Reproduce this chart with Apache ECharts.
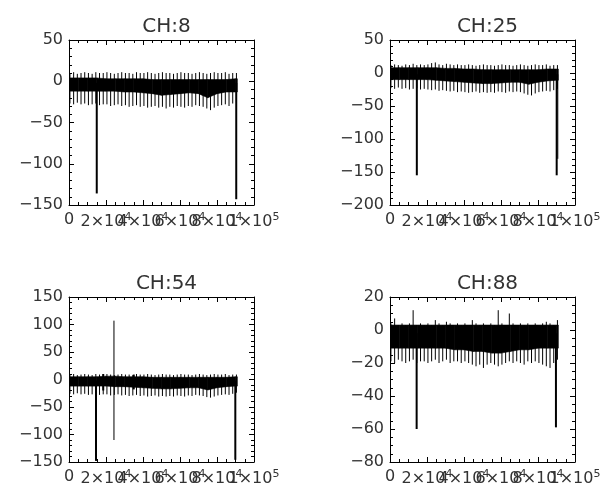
<!DOCTYPE html>
<html>
<head>
<meta charset="UTF-8">
<title>CH plots</title>
<style>
  body { margin: 0; background: #fff; }
  #chart { width: 600px; height: 489px; }
</style>
<script src="https://cdn.jsdelivr.net/npm/echarts@6.0.0/dist/echarts.min.js"></script>
</head>
<body>
<div id="chart"></div>
<script>
// x ticks, shared by all four panels
var xTicks = [0, 20000, 40000, 60000, 80000, 100000];
var xTickMant = ['0', '2', '4', '6', '8', '1'];
var xTickExp = ['', '4', '4', '4', '4', '5'];

// envelope of the dense black band (sample positions)
var envX = [0, 5000, 10000, 15000, 20000, 25000, 30000, 35000, 40000, 45000,
  50000, 55000, 60000, 65000, 70000, 75000, 80000, 85000, 90000, 91000];

// positions of the regular comb spikes
var spikeX = [500, 2500, 4500, 6500, 8500, 10500, 12500, 14500, 16500, 18500,
  20500, 22500, 24500, 26500, 28500, 30500, 32500, 34500, 36500, 38500,
  40500, 42500, 44500, 46500, 48500, 50500, 52500, 54500, 56500, 58500,
  60500, 62500, 64500, 66500, 68500, 70500, 72500, 74500, 76500, 78500,
  80500, 82500, 84500, 86500, 88500, 90500];

// CH:8
var ch8Top = [4, 4, 4, 4, 3, 3, 3, 3, 3, 2, 2, 2, 2, 2, 2, 2, 2, 2, 3, 3];
var ch8Bot = [-12, -12, -12, -12, -12, -12, -13, -13, -14, -15, -17, -16, -15, -14, -15, -20, -15, -13, -13, -13];
var ch8SpikeLo = [-27, -28, -26, -28, -27, -29, -28, -27, -29, -28, -28, -30, -29, -28, -30, -29, -31, -30, -29, -31,
  -30, -32, -31, -30, -32, -31, -33, -31, -32, -30, -31, -32, -30, -31, -29, -30, -31, -33, -35, -32,
  -30, -29, -28, -30, -27, -25];
var ch8SpikeHi = [10, 11, 9, 10, 11, 10, 9, 11, 10, 10, 11, 10, 9, 10, 11, 10, 10, 9, 11, 10,
  10, 11, 10, 9, 10, 11, 10, 10, 9, 10, 11, 10, 10, 9, 10, 11, 10, 9, 10, 11,
  10, 10, 11, 9, 10, 10];
var ch8Big = [[15000, -136, -2, 2], [90400, -143, -2, 2]];

// CH:25
var ch25Top = [8, 8, 8, 8, 8, 8, 7, 7, 6, 6, 5, 5, 5, 5, 5, 5, 5, 6, 6, 6];
var ch25Bot = [-10, -10, -10, -10, -10, -11, -12, -13, -14, -15, -16, -16, -15, -14, -14, -17, -14, -12, -11, -11];
var ch25SpikeLo = [-23, -24, -22, -24, -23, -25, -24, -23, -25, -24, -25, -26, -25, -27, -26, -27, -28, -27, -29, -28,
  -29, -30, -29, -28, -30, -29, -30, -29, -30, -28, -29, -30, -28, -29, -28, -29, -31, -33, -34, -31,
  -29, -28, -27, -28, -26, -24];
var ch25SpikeHi = [12, 13, 12, 11, 13, 12, 14, 12, 13, 12, 13, 15, 16, 13, 12, 14, 13, 12, 13, 12,
  12, 13, 12, 11, 12, 13, 12, 12, 11, 12, 13, 12, 12, 11, 12, 13, 12, 11, 12, 13,
  12, 12, 13, 11, 12, 12];
var ch25Big = [[14500, -155, -2, 2], [90100, -155, -2, 2], [90700, -130, -2, 1]];

// CH:54
var ch54Top = [5, 5, 5, 5, 6, 6, 5, 5, 5, 4, 4, 4, 4, 4, 4, 4, 4, 4, 5, 5];
var ch54Bot = [-12, -12, -12, -12, -12, -13, -13, -14, -15, -16, -17, -17, -16, -15, -15, -19, -15, -13, -12, -12];
var ch54SpikeLo = [-26, -27, -25, -27, -26, -28, -27, -26, -28, -27, -27, -29, -28, -27, -29, -28, -30, -29, -28, -30,
  -29, -31, -30, -29, -31, -30, -31, -30, -31, -29, -30, -31, -29, -30, -28, -29, -30, -32, -33, -31,
  -29, -28, -27, -28, -26, -24];
var ch54SpikeHi = [9, 10, 8, 9, 10, 9, 8, 10, 9, 9, 10, 9, 8, 9, 10, 9, 9, 8, 10, 9,
  9, 10, 9, 8, 9, 10, 9, 9, 8, 9, 10, 9, 9, 8, 9, 10, 9, 8, 9, 10,
  9, 9, 10, 8, 9, 9];
var ch54Big = [[14600, -148, -2, 2], [18500, -20, 10, 2], [24300, -110, 107, 1], [35000, -18, 9, 2], [89900, -146, -2, 2]];

// CH:88
var ch88Top = [3, 3, 3, 3, 3, 3, 3, 3, 3, 3, 3, 3, 3, 3, 3, 3, 3, 3, 3, 3];
var ch88Bot = [-11, -11, -11, -11, -11, -11, -11, -12, -12, -13, -13, -14, -14, -13, -12, -12, -11, -11, -11, -11];
var ch88SpikeLo = [-19, -20, -18, -19, -20, -19, -18, -20, -19, -19, -20, -19, -18, -20, -19, -18, -20, -19, -19, -20,
  -19, -20, -21, -22, -21, -23, -21, -20, -21, -22, -21, -20, -19, -20, -19, -20, -21, -19, -20, -19,
  -20, -21, -22, -23, -20, -18];
var ch88SpikeHi = [4, 7, 3, 4, 3, 4, 12, 3, 4, 3, 4, 3, 6, 4, 3, 5, 4, 3, 4, 3,
  4, 3, 6, 4, 3, 4, 3, 4, 3, 12, 4, 3, 10, 4, 3, 4, 3, 4, 3, 4,
  3, 4, 5, 4, 3, 6];
var ch88Big = [[14400, -60, -2, 2], [89700, -59, -2, 2]];

var panels = [
  { name: 'CH:8', left: 69, top: 40, min: -150, max: 50, interval: 50, minor: 5,
    top_: ch8Top, bot: ch8Bot, lo: ch8SpikeLo, hi: ch8SpikeHi, big: ch8Big },
  { name: 'CH:25', left: 390, top: 40, min: -200, max: 50, interval: 50, minor: 5,
    top_: ch25Top, bot: ch25Bot, lo: ch25SpikeLo, hi: ch25SpikeHi, big: ch25Big },
  { name: 'CH:54', left: 69, top: 297, min: -150, max: 150, interval: 50, minor: 5,
    top_: ch54Top, bot: ch54Bot, lo: ch54SpikeLo, hi: ch54SpikeHi, big: ch54Big },
  { name: 'CH:88', left: 390, top: 297, min: -80, max: 20, interval: 20, minor: 4,
    top_: ch88Top, bot: ch88Bot, lo: ch88SpikeLo, hi: ch88SpikeHi, big: ch88Big }
];

var PW = 185, PH = 165;
var textColor = '#333';
var fontFamily = '"DejaVu Sans", sans-serif';

function yLabel(v) {
  return v < 0 ? '\u2212' + (-v) : String(v);
}
// the reference labels overlap each other; split them over two label axes
// (even / odd ticks) so ECharts does not drop any of them
function xLabelPart(odd) {
  return function (v) {
    var i = xTicks.indexOf(v);
    if (i < 0 || (i % 2 === 1) !== odd) return '';
    if (xTickExp[i] === '') return xTickMant[i];
    return '{b|' + xTickMant[i] + '\u00d710}{s|' + xTickExp[i] + '}';
  };
}

function renderBand(params, api) {
  var a = api.coord([api.value(0), api.value(1)]);
  var b = api.coord([api.value(3), api.value(4)]);
  var c = api.coord([api.value(3), api.value(5)]);
  var d = api.coord([api.value(0), api.value(2)]);
  return {
    type: 'polygon',
    shape: { points: [a, b, c, d] },
    style: { fill: '#000', stroke: '#000', lineWidth: 0.6 }
  };
}

function renderSeg(params, api) {
  var p = api.coord([api.value(0), api.value(1)]);
  var q = api.coord([api.value(0), api.value(2)]);
  return {
    type: 'line',
    shape: { x1: p[0], y1: p[1], x2: q[0], y2: q[1] },
    style: { stroke: '#000', lineWidth: api.value(3) }
  };
}

var titles = [], grids = [], xAxes = [], yAxes = [], series = [];

panels.forEach(function (p, k) {
  titles.push({
    text: p.name,
    left: p.left + PW / 2,
    top: p.top - 28,
    textAlign: 'center',
    textStyle: { fontSize: 20, fontWeight: 'normal', color: textColor, fontFamily: fontFamily }
  });
  grids.push({ left: p.left, top: p.top, width: PW, height: PH, outerBoundsMode: 'none' });

  var tickBase = { show: true, inside: true, length: 5, lineStyle: { color: '#000' } };
  var minorX = { show: true, splitNumber: 4, length: 3, lineStyle: { color: '#000' } };
  var minorY = { show: true, splitNumber: p.minor, length: 3, lineStyle: { color: '#000' } };
  var line = { show: true, onZero: false, lineStyle: { color: '#000', width: 1 } };
  var rich = {
    b: { fontSize: 16, color: textColor, fontFamily: fontFamily },
    s: { fontSize: 11, color: textColor, fontFamily: fontFamily, verticalAlign: 'top', padding: [0, 0, 8, 0] }
  };

  // 0: bottom axis (line, ticks, even labels)
  xAxes.push({
    type: 'value', gridIndex: k, position: 'bottom', min: 0, max: 100000, interval: 20000,
    axisLine: line, axisTick: tickBase, minorTick: minorX, splitLine: { show: false },
    axisLabel: {
      show: true, margin: 7, hideOverlap: false,
      formatter: xLabelPart(false), color: textColor, fontSize: 16, fontFamily: fontFamily, rich: rich
    }
  });
  // 1: top axis (box edge)
  xAxes.push({
    type: 'value', gridIndex: k, position: 'top', min: 0, max: 100000, interval: 20000,
    axisLine: line, axisTick: tickBase, minorTick: minorX, splitLine: { show: false },
    axisLabel: { show: false }
  });
  // 2: bottom label-only axis (odd labels)
  xAxes.push({
    type: 'value', gridIndex: k, position: 'bottom', offset: 0, min: 0, max: 100000, interval: 20000,
    axisLine: { show: false }, axisTick: { show: false }, splitLine: { show: false },
    axisLabel: {
      show: true, margin: 7, hideOverlap: false,
      formatter: xLabelPart(true), color: textColor, fontSize: 16, fontFamily: fontFamily, rich: rich
    }
  });
  yAxes.push({
    type: 'value', gridIndex: k, position: 'left', min: p.min, max: p.max, interval: p.interval,
    axisLine: line, axisTick: tickBase, minorTick: minorY, splitLine: { show: false },
    axisLabel: { show: true, margin: 6, formatter: yLabel, color: textColor, fontSize: 16, fontFamily: fontFamily }
  });
  yAxes.push({
    type: 'value', gridIndex: k, position: 'right', min: p.min, max: p.max, interval: p.interval,
    axisLine: line, axisTick: tickBase, minorTick: minorY, splitLine: { show: false },
    axisLabel: { show: false }
  });

  // band segments built from envelope arrays
  var bandData = [];
  for (var i = 0; i < envX.length - 1; i++) {
    bandData.push([envX[i], p.top_[i], p.bot[i], envX[i + 1], p.top_[i + 1], p.bot[i + 1]]);
  }
  var combData = spikeX.map(function (x, i) { return [x, p.lo[i], p.hi[i], 1]; });

  var xi = 3 * k, yi = 2 * k;
  series.push({
    type: 'custom', name: p.name + ' band', xAxisIndex: xi, yAxisIndex: yi,
    renderItem: renderBand, data: bandData, clip: true, silent: true,
    encode: { x: [0, 3], y: [1, 2] }
  });
  series.push({
    type: 'custom', name: p.name + ' spikes', xAxisIndex: xi, yAxisIndex: yi,
    renderItem: renderSeg, data: combData, clip: true, silent: true,
    encode: { x: 0, y: [1, 2] }
  });
  series.push({
    type: 'custom', name: p.name + ' glitches', xAxisIndex: xi, yAxisIndex: yi,
    renderItem: renderSeg, data: p.big, clip: true, silent: true,
    encode: { x: 0, y: [1, 2] }
  });
});

var chart = echarts.init(document.getElementById('chart'));
chart.setOption({
  animation: false,
  backgroundColor: '#fff',
  title: titles,
  grid: grids,
  xAxis: xAxes,
  yAxis: yAxes,
  series: series
});
</script>
</body>
</html>
